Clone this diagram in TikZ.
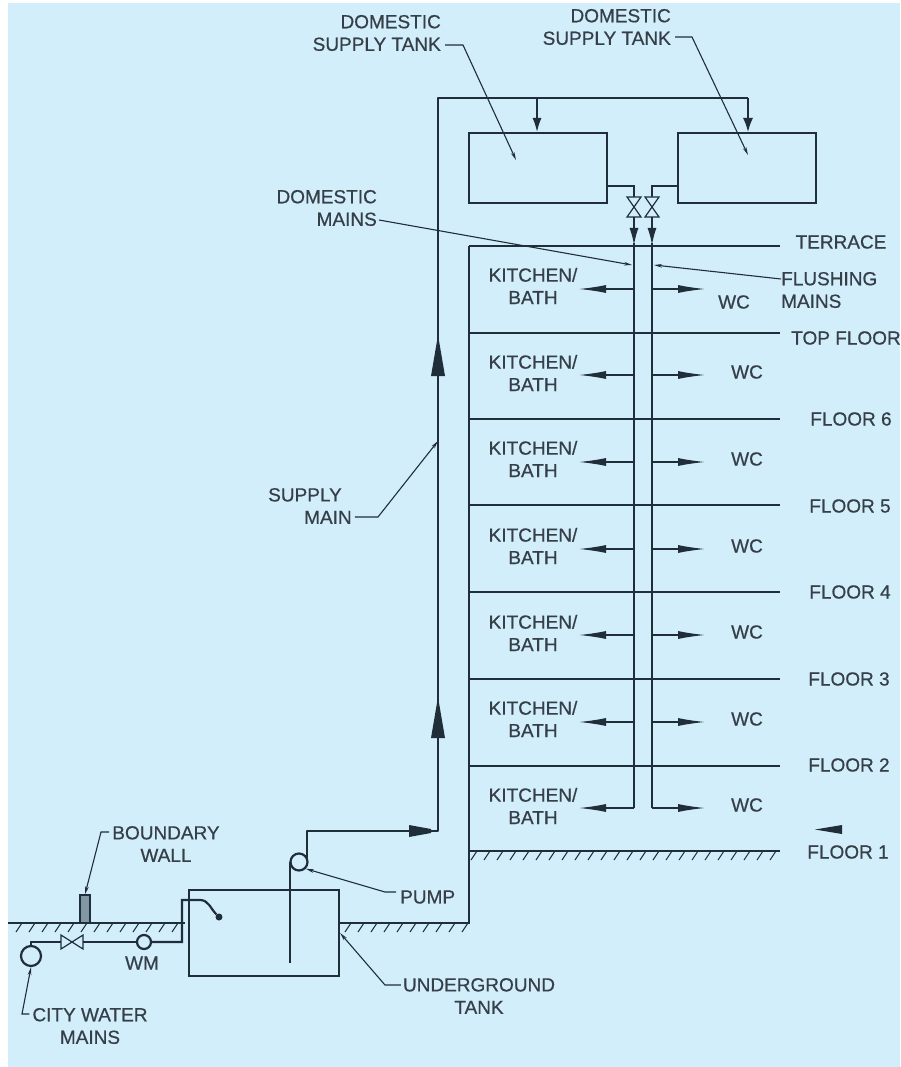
\documentclass[tikz,border=0pt]{standalone}
\usepackage{fontspec}
\setmainfont[FakeBold=0.6]{Liberation Sans}
\usetikzlibrary{arrows.meta,calc}
\definecolor{bgblue}{HTML}{D2EEFB}
\definecolor{ink}{HTML}{1F2E38}
\definecolor{txt}{HTML}{363F47}
\tikzset{
  x=1pt,y=-1pt,
  pipe/.style={draw=ink,line width=2.2pt},
  thin pipe/.style={draw=ink,line width=1.8pt},
  leader/.style={draw=ink,line width=1.1pt,-{Stealth[length=8pt,width=3.6pt]}},
  drop/.style={draw=ink,line width=1.5pt,-{Latex[length=17pt,width=9pt]}},
  tank/.style={draw=ink,line width=2pt,minimum width=138pt,minimum height=70pt,inner sep=0pt,rectangle},
  ring/.style={draw=ink,line width=2.2pt,circle,inner sep=0pt},
  lab/.style={text=txt,font=\fontsize{19}{22.5}\selectfont,align=center,inner sep=0pt},
  hatch/.style={draw=ink,line width=1pt},
  floorline/.style={draw=ink,line width=1.6pt},
  valve/.style={draw=ink,line width=1.2pt,fill=bgblue},
}
\begin{document}
\begin{tikzpicture}
\useasboundingbox (0,0) rectangle (900,1067);
\fill[white] (0,0) rectangle (900,1067);
\fill[bgblue] (8,3) rectangle (900,1067);

% roof tanks
\node[tank] (tankA) at (538,168) {};
\node[tank] (tankB) at (747,168) {};

% supply main
\node[ring,minimum size=17pt] (pump) at (299,862) {};
\node[draw=ink,line width=2.2pt,minimum width=150pt,minimum height=86pt,inner sep=0pt] (ugtank) at (264,933) {};
\coordinate (suctionEnd) at (290,963);
\coordinate (suctionTop) at (290,862);
\coordinate (pOut) at (307,858);
\coordinate (pBend) at (307,831);
\coordinate (riserFoot) at (438,831);
\coordinate (riserTop) at (438,98);
\coordinate (headEnd) at (748,98);
\coordinate (branchA) at (537,98);
\draw[pipe] (suctionEnd) -- (suctionTop);
\draw[pipe,line width=2.6pt,line join=round] (pOut) -- (pBend) -- (riserFoot) -- (riserTop) -- (headEnd);
\fill[ink] (409,825) -- (431,829) -- (431,833) -- (409,837) -- cycle;
\fill[ink] (438,335) -- (445,376) -- (431,376) -- cycle;
\fill[ink] (438,697) -- (445,738) -- (431,738) -- cycle;
\draw[drop,-{Latex[length=14pt,width=9pt]}] (branchA) -- (branchA |- tankA.north);
\draw[drop,-{Latex[length=14pt,width=10pt]}] (headEnd) -- (headEnd |- tankB.north);

% building
\coordinate (wallTop) at (469,246);
\coordinate (wallFoot) at (469,923);
\coordinate (groundR) at (340,923);
\coordinate (g1L) at (469,851);
\coordinate (g1R) at (780,851);
\draw[floorline,line width=2pt] (wallTop) -- (wallFoot) -- (groundR);
\draw[floorline,line width=2pt] (g1L) -- (g1R);
\foreach \fy in {246,333,419,505,592,679,766}
  \draw[floorline] (469,\fy) -- (780,\fy);
\foreach \hx in {471,484,...,775}
  \draw[hatch] (\hx,860) -- (\hx+6,851);
\foreach \hx in {345,358,...,462}
  \draw[hatch] (\hx,932) -- (\hx+6,923);

% valves and mains
\coordinate (dTop) at (634,186);
\coordinate (fTop) at (652,186);
\coordinate (dFoot) at (634,808);
\coordinate (fFoot) at (652,808);
\draw[thin pipe] (tankA.east |- dTop) -- (dTop) -- (634,198);
\draw[thin pipe] (tankB.west |- fTop) -- (fTop) -- (652,198);
\foreach \vx in {634,652} {
  \draw[valve] (\vx-7,197) -- (\vx+7,197) -- (\vx-7,217) -- (\vx+7,217) -- cycle;
  \draw[drop] (\vx,217) -- (\vx,245);
}
\draw[pipe] (634,243) -- (dFoot);
\draw[pipe] (652,243) -- (fFoot);

% branches
\foreach \by in {289,375,462,549,635,722,808} {
  \draw[draw=ink,line width=1.2pt,-{Latex[length=27pt,width=8pt]}] (634,\by) -- (579,\by);
  \draw[draw=ink,line width=1.2pt,-{Latex[length=27pt,width=8pt]}] (652,\by) -- (705,\by);
}
\foreach \ky in {275,362,448,535,622,708,795}
  \node[lab] at (533,\ky+11) {KITCHEN/\\BATH};
\node[lab] at (734,302) {WC};
\foreach \wy in {372,459,546,632,719,805}
  \node[lab] at (747,\wy) {WC};

% floor labels
\node[lab] at (841,242) {TERRACE};
\node[lab] at (846,338) {TOP FLOOR};
\node[lab] at (851,419) {FLOOR 6};
\node[lab] at (850,506) {FLOOR 5};
\node[lab] at (850,592) {FLOOR 4};
\node[lab] at (849,679) {FLOOR 3};
\node[lab] at (849,765) {FLOOR 2};
\node[lab] at (848,852) {FLOOR 1};
\fill[ink] (815,829.5) -- (842,825) -- (842,834) -- cycle;

% city side
\coordinate (gL) at (8,923);
\coordinate (gM) at (185,923);
\draw[pipe] (gL) -- (gM);
\foreach \hx in {16,29,...,172}
  \draw[hatch] (\hx,932) -- (\hx+6,923);
\node[draw=ink,line width=1.2pt,fill=ink!45!bgblue,minimum width=10pt,minimum height=28pt,inner sep=0pt] (wall) at (85,909) {};
\node[ring,minimum size=20pt] (city) at (31,956) {};
\node[ring,minimum size=14pt] (wm) at (144,942) {};
\coordinate (cBend) at (31,942);
\coordinate (vL) at (61,942);
\coordinate (vR) at (83,942);
\coordinate (upFoot) at (182,942);
\coordinate (upTop) at (182,900);
\coordinate (inletBend) at (200,900);
\node[circle,fill=ink,inner sep=0pt,minimum size=7pt] (floatball) at (219,917) {};
\draw[pipe] (city.north) -- (cBend) -- (vL);
\draw[valve,fill=bgblue] (vL |- 0,935) -- (vR |- 0,949) -- (vR |- 0,935) -- (vL |- 0,949) -- cycle;
\draw[pipe] (vR) -- (wm.west);
\draw[pipe] (wm.east) -- (upFoot) -- (upTop) -- (inletBend) to[out=0,in=135] (floatball);

% labels with leaders
\node[lab] (bw) at (166,844) {BOUNDARY\\WALL};
\coordinate (bwK) at (101,832);
\draw[leader] ([xshift=-3pt]bw.west |- bwK) -- (bwK) -- (wall.north);
\node[lab] (cwm) at (90,1026) {CITY WATER\\MAINS};
\coordinate (cwK) at (22,1014);
\draw[leader] ([xshift=-3pt]cwm.west |- cwK) -- (cwK) -- (city.south);
\node[lab] at (142,963) {WM};
\node[lab,anchor=west] (plab) at (400,897) {PUMP};
\coordinate (pK) at (385,892);
\draw[leader] (396,892) -- (pK) -- (pump.south east);
\node[lab] (uglab) at (479,996) {UNDERGROUND\\TANK};
\coordinate (uK) at (385,985);
\draw[leader] ([xshift=-2pt]uglab.west |- uK) -- (uK) -- (ugtank.east);

\node[lab,align=right,anchor=east] (ds1) at (441,33) {DOMESTIC\\SUPPLY TANK};
\coordinate (ds1K) at (463,45);
\coordinate (ds1T) at (516,160);
\draw[leader] ([xshift=4pt]ds1.east |- ds1K) -- (ds1K) -- (ds1T);
\node[lab,align=right,anchor=east] (ds2) at (671,27) {DOMESTIC\\SUPPLY TANK};
\coordinate (ds2K) at (692,37);
\coordinate (ds2T) at (748,155);
\draw[leader] ([xshift=4pt]ds2.east |- ds2K) -- (ds2K) -- (ds2T);
\node[lab,align=right,anchor=east] (dm) at (377,208) {DOMESTIC\\MAINS};
\coordinate (dmT) at (632,265);
\draw[leader] ([xshift=2pt]dm.east |- 0,220) -- (dmT);
\node[lab,align=left,anchor=west] (fm) at (781,290) {FLUSHING\\MAINS};
\coordinate (fmT) at (654,265);
\draw[leader] (fm.west |- 0,279) -- (fmT);
\node[lab,align=left,anchor=west] (sm) at (268,506) {SUPPLY\\\hspace*{36pt}MAIN};
\coordinate (smK) at (378,517);
\coordinate (smT) at (438,441);
\draw[leader] ([xshift=3pt]sm.east |- smK) -- (smK) -- (smT);
\end{tikzpicture}
\end{document}
